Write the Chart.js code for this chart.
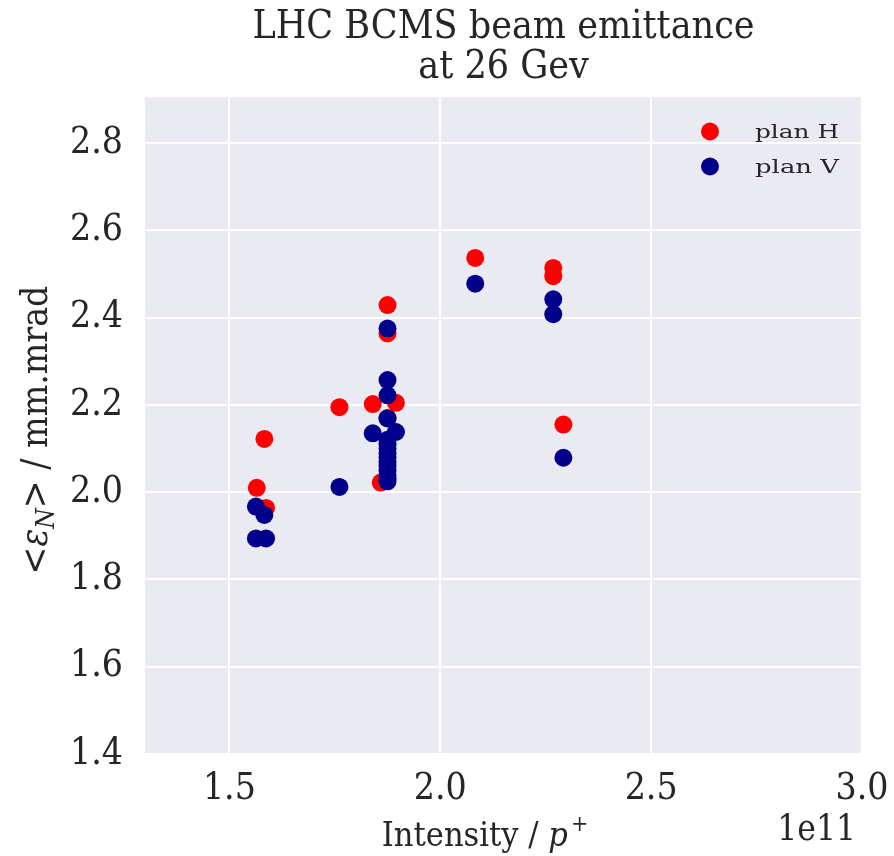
<!DOCTYPE html>
<html>
<head>
<meta charset="utf-8">
<script src="https://cdn.jsdelivr.net/npm/chart.js@4/dist/chart.umd.min.js"></script>
<style>
  html, body { margin: 0; padding: 0; background: #ffffff; }
  #wrap { width: 894px; height: 856px; }
</style>
</head>
<body>
<div id="wrap"><canvas id="emitChart" width="894" height="856"></canvas></div>
<script>
// intensity in units of 1e11 protons, emittance in mm.mrad
const hIntensity = [1.565, 1.583, 1.587, 1.761, 1.840, 1.895, 1.875, 1.875, 1.859, 1.875, 2.083, 2.268, 2.268, 2.292];
const hEmittance = [2.010, 2.122, 1.964, 2.195, 2.202, 2.205, 2.429, 2.364, 2.022, 2.170, 2.537, 2.514, 2.495, 2.155];

const vIntensity = [1.563, 1.583, 1.563, 1.587, 1.761, 1.875, 1.875, 1.875, 1.875, 1.840, 1.895, 1.875, 1.875, 1.875, 1.875, 1.875, 1.875, 1.875, 1.875, 1.875, 1.875, 1.875, 2.083, 2.268, 2.268, 2.292];
const vEmittance = [1.967, 1.948, 1.894, 1.894, 2.012, 2.375, 2.257, 2.222, 2.169, 2.135, 2.138, 2.120, 2.110, 2.100, 2.090, 2.080, 2.070, 2.060, 2.050, 2.040, 2.032, 2.025, 2.478, 2.442, 2.408, 2.079];

const xTicks = [1.5, 2.0, 2.5, 3.0];
const yTicks = [1.4, 1.6, 1.8, 2.0, 2.2, 2.4, 2.6, 2.8];

const seriesNames = ['plan H', 'plan V'];
const seriesColors = ['#ff0000', '#00008b'];

const SERIF = '"DejaVu Serif Condensed", "DejaVu Serif", serif';
const SERIF_WIDE = '"DejaVu Serif", serif';
const TEXT = '#262626';

function toPoints(xs, ys) {
    return xs.map((x, i) => ({ x: x, y: ys[i] }));
}

// background, custom legend and axis labels with math bits
const decorations = {
    id: 'decorations',
    beforeDraw(chart) {
        const { ctx, chartArea } = chart;
        ctx.save();
        ctx.fillStyle = '#eaeaf2';
        ctx.fillRect(chartArea.left, chartArea.top, chartArea.right - chartArea.left, chartArea.bottom - chartArea.top);
        ctx.restore();
    },
    afterDraw(chart) {
        const { ctx, chartArea } = chart;
        ctx.save();
        ctx.fillStyle = TEXT;

        // legend (text in the reference is stretched sideways)
        ctx.textBaseline = 'alphabetic';
        chart.data.datasets.forEach((ds, i) => {
            const y = 131.5 + i * 35;
            ctx.beginPath();
            ctx.arc(710, y, 9, 0, Math.PI * 2);
            ctx.fillStyle = ds.backgroundColor;
            ctx.fill();
            ctx.fillStyle = TEXT;
            ctx.textAlign = 'left';
            ctx.font = '18px ' + SERIF_WIDE;
            const w = ctx.measureText(ds.label).width;
            ctx.save();
            ctx.translate(755, y + 6.5);
            ctx.scale(84 / w, 1);
            ctx.fillText(ds.label, 0, 0);
            ctx.restore();
        });

        // x label: Intensity / p+
        const xlY = 846;
        const part1 = 'Intensity / ';
        ctx.font = 'italic 34px ' + SERIF;
        const wp = ctx.measureText('p').width;
        ctx.font = '23px ' + SERIF;
        const wplus = ctx.measureText('+').width;
        ctx.font = '34px ' + SERIF;
        const w1 = ctx.measureText(part1).width;
        const x0 = 485 - (w1 + wp + wplus + 3) / 2;
        ctx.textAlign = 'left';
        ctx.fillText(part1, x0, xlY);
        ctx.font = 'italic 34px ' + SERIF;
        ctx.fillText('p', x0 + w1, xlY);
        ctx.font = '23px ' + SERIF;
        ctx.fillText('+', x0 + w1 + wp + 3, xlY - 15);

        // offset text
        ctx.font = '35px ' + SERIF;
        ctx.textAlign = 'right';
        ctx.fillText('1e11', 856, 840);

        // y label: <eps_N> / mm.mrad
        ctx.translate(47, 430);
        ctx.rotate(-Math.PI / 2);
        ctx.font = '37px ' + SERIF;
        const a = '<';
        const wa = ctx.measureText(a).width;
        ctx.font = 'italic 37px ' + SERIF;
        const we = ctx.measureText('ε').width;
        ctx.font = 'italic 26px ' + SERIF;
        const wn = ctx.measureText('N').width;
        ctx.font = '37px ' + SERIF;
        const rest = '> / mm.mrad';
        const wr = ctx.measureText(rest).width;
        let sx = -(wa + we + wn + wr) / 2;
        ctx.textAlign = 'left';
        ctx.fillText(a, sx, 0);
        sx += wa;
        ctx.font = 'italic 37px ' + SERIF;
        ctx.fillText('ε', sx, 0);
        sx += we;
        ctx.font = 'italic 26px ' + SERIF;
        ctx.fillText('N', sx, 7);
        sx += wn;
        ctx.font = '37px ' + SERIF;
        ctx.fillText(rest, sx, 0);
        ctx.restore();
    }
};

const ctx = document.getElementById('emitChart');

new Chart(ctx, {
    type: 'scatter',
    data: {
        datasets: [
            {
                label: seriesNames[0],
                data: toPoints(hIntensity, hEmittance),
                backgroundColor: seriesColors[0],
                borderWidth: 0,
                pointRadius: 9,
                order: 2
            },
            {
                label: seriesNames[1],
                data: toPoints(vIntensity, vEmittance),
                backgroundColor: seriesColors[1],
                borderWidth: 0,
                pointRadius: 9,
                order: 1
            }
        ]
    },
    options: {
        responsive: false,
        animation: false,
        devicePixelRatio: 1,
        layout: { padding: { left: 0, right: 32, top: 0, bottom: 0 } },
        plugins: {
            legend: { display: false },
            tooltip: { enabled: false },
            title: {
                display: true,
                fullSize: false,
                text: ['LHC BCMS beam emittance', 'at 26 Gev'],
                color: TEXT,
                font: { family: SERIF, size: 39, weight: 'normal', lineHeight: 1.03 },
                padding: { top: 8, bottom: 9 }
            }
        },
        scales: {
            x: {
                type: 'linear',
                min: 1.3,
                max: 3.0,
                afterBuildTicks(scale) {
                    scale.ticks = xTicks.map(v => ({ value: v }));
                },
                afterFit(scale) {
                    scale.height = 102;
                    scale.paddingLeft = 0;
                    scale.paddingRight = 0;
                },
                grid: { color: '#ffffff', lineWidth: 2, drawTicks: false },
                border: { display: false },
                ticks: {
                    color: TEXT,
                    padding: 13,
                    maxRotation: 0,
                    font: { family: SERIF, size: 37 },
                    callback: v => v.toFixed(1)
                }
            },
            y: {
                type: 'linear',
                min: 1.4,
                max: 2.905,
                afterBuildTicks(scale) {
                    scale.ticks = yTicks.map(v => ({ value: v }));
                },
                afterFit(scale) {
                    scale.width = 145;
                    scale.paddingTop = 0;
                    scale.paddingBottom = 0;
                },
                grid: { color: '#ffffff', lineWidth: 2, drawTicks: false },
                border: { display: false },
                ticks: {
                    color: TEXT,
                    padding: 22,
                    font: { family: SERIF, size: 37 },
                    callback: v => v.toFixed(1)
                }
            }
        }
    },
    plugins: [decorations]
});
</script>
</body>
</html>
